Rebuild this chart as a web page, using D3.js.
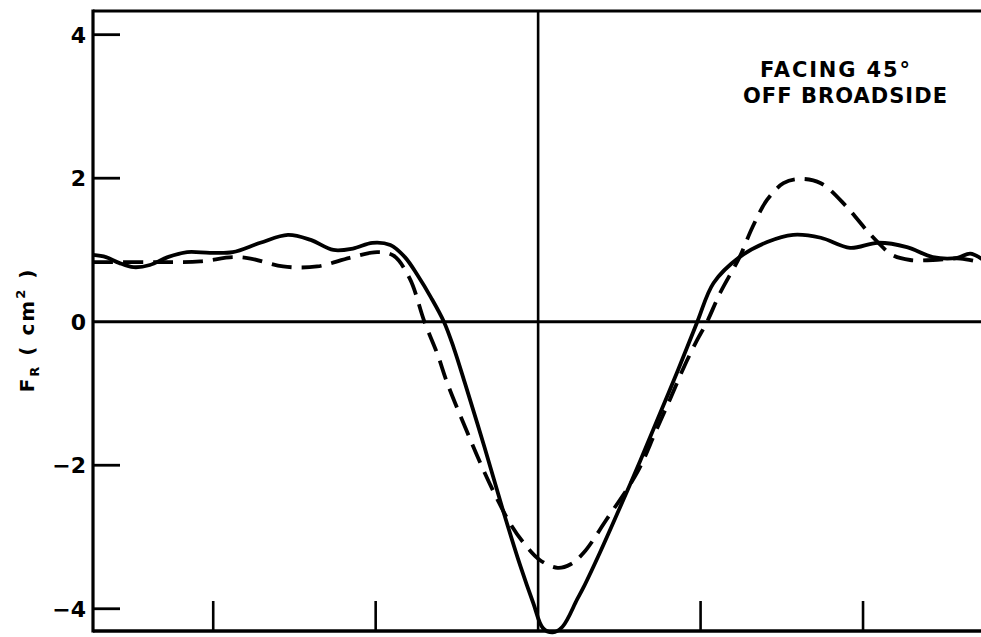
<!DOCTYPE html>
<html>
<head>
<meta charset="utf-8">
<script src="https://cdn.jsdelivr.net/npm/d3@7"></script>
<style>
  html, body { margin: 0; padding: 0; background: #fff; }
  svg { display: block; }
  text { font-family: "DejaVu Sans", "Liberation Sans", sans-serif; font-weight: bold; fill: #000; }
</style>
</head>
<body>
<svg id="chart" width="981" height="637"></svg>
<script>
// Radar cross-section F_R, target facing 45° off broadside
const solidX = [-2.74,-2.66,-2.58,-2.49,-2.39,-2.28,-2.16,-2.02,-1.88,-1.71,-1.54,-1.40,-1.26,-1.14,-1.02,-0.91,-0.82,-0.74,-0.66,-0.58,-0.52,-0.45,-0.33,-0.22,-0.11,-0.03,0.03,0.09,0.15,0.24,0.28,0.38,0.49,0.63,0.75,0.86,0.98,1.08,1.24,1.41,1.57,1.74,1.92,2.09,2.27,2.43,2.58,2.66,2.74];
const solidY = [0.93,0.90,0.82,0.76,0.79,0.90,0.97,0.96,0.97,1.10,1.21,1.14,1.00,1.02,1.10,1.07,0.90,0.64,0.34,0.00,-0.36,-0.86,-1.75,-2.60,-3.40,-3.92,-4.27,-4.33,-4.25,-3.87,-3.70,-3.22,-2.66,-1.93,-1.28,-0.68,0.00,0.54,0.90,1.11,1.21,1.17,1.03,1.10,1.04,0.90,0.89,0.95,0.86];

const dashX = [-2.74,-2.49,-2.28,-2.08,-1.88,-1.77,-1.57,-1.36,-1.16,-0.99,-0.89,-0.79,-0.70,-0.62,-0.56,-0.44,-0.34,-0.25,-0.17,-0.09,0.01,0.12,0.20,0.28,0.42,0.61,0.72,0.81,0.90,0.98,1.04,1.12,1.24,1.32,1.41,1.51,1.61,1.74,1.90,2.02,2.09,2.18,2.29,2.43,2.60,2.74];
const dashY = [0.83,0.83,0.83,0.84,0.90,0.88,0.77,0.77,0.89,0.97,0.92,0.60,0.00,-0.45,-0.85,-1.52,-2.05,-2.48,-2.82,-3.08,-3.32,-3.43,-3.38,-3.22,-2.76,-2.10,-1.55,-1.09,-0.62,-0.25,0.00,0.40,0.90,1.32,1.70,1.93,1.99,1.93,1.60,1.28,1.11,0.93,0.86,0.86,0.88,0.82];

const yTicks = [4, 2, 0, -2, -4];
const yTickLabels = ["4", "2", "0", "\u22122", "\u22124"];
const xTicks = [-2, -1, 1, 2];
const noteLines = ["FACING 45\u00B0", "OFF BROADSIDE"];

const svg = d3.select("#chart");
const plotLeft = 93, plotTop = 11, plotBottom = 631;

const x = d3.scaleLinear().domain([-2.74, 2.74]).range([plotLeft, 538 + 2.74 * 162.5]);
const y = d3.scaleLinear().domain([-4.31, 4.33]).range([plotBottom, plotTop]);

const ink = "#000";

// frame: left axis, top border, bottom axis
svg.append("line").attr("x1", x(-2.74)).attr("x2", x(-2.74)).attr("y1", plotTop - 1.5).attr("y2", plotBottom + 1.5)
  .attr("stroke", ink).attr("stroke-width", 3.2);
svg.append("line").attr("x1", x(-2.74)).attr("x2", 981).attr("y1", plotTop).attr("y2", plotTop)
  .attr("stroke", ink).attr("stroke-width", 3);
svg.append("line").attr("x1", x(-2.74)).attr("x2", 981).attr("y1", plotBottom).attr("y2", plotBottom)
  .attr("stroke", ink).attr("stroke-width", 3.4);

// zero reference lines
svg.append("line").attr("x1", x(-2.74)).attr("x2", 981).attr("y1", y(0)).attr("y2", y(0))
  .attr("stroke", ink).attr("stroke-width", 3);
svg.append("line").attr("x1", x(0)).attr("x2", x(0)).attr("y1", plotTop).attr("y2", plotBottom)
  .attr("stroke", ink).attr("stroke-width", 2.6);

// y ticks and labels
svg.selectAll(".ytick").data(yTicks.filter(d => d !== 0)).enter().append("line")
  .attr("x1", x(-2.74)).attr("x2", x(-2.74) + 27)
  .attr("y1", d => y(d)).attr("y2", d => y(d))
  .attr("stroke", ink).attr("stroke-width", 2.8);
svg.selectAll(".ylab").data(yTicks).enter().append("text")
  .attr("x", 86).attr("y", d => y(d) + 8)
  .attr("text-anchor", "end").attr("font-size", 22)
  .text((d, i) => yTickLabels[i]);

// x ticks along the bottom axis
svg.selectAll(".xtick").data(xTicks).enter().append("line")
  .attr("x1", d => x(d)).attr("x2", d => x(d))
  .attr("y1", plotBottom).attr("y2", plotBottom - 30)
  .attr("stroke", ink).attr("stroke-width", 2.6);

// y-axis title
const title = svg.append("text")
  .attr("transform", "translate(34,330) rotate(-90)")
  .attr("text-anchor", "middle").attr("font-size", 20).attr("letter-spacing", 2);
title.append("tspan").text("F");
title.append("tspan").attr("font-size", 13).attr("dy", 5).text("R");
title.append("tspan").attr("dy", -5).text(" ( cm");
title.append("tspan").attr("font-size", 13).attr("dy", -9).text("2");
title.append("tspan").attr("dy", 9).text(" )");

// curves
const line = d3.line().x(d => x(d[0])).y(d => y(d[1])).curve(d3.curveCatmullRom.alpha(0.5));
svg.append("path").datum(solidX.map((v, i) => [v, solidY[i]]))
  .attr("d", line).attr("fill", "none").attr("stroke", ink)
  .attr("stroke-width", 3.8).attr("stroke-linejoin", "round");
svg.append("path").datum(dashX.map((v, i) => [v, dashY[i]]))
  .attr("d", line).attr("fill", "none").attr("stroke", ink)
  .attr("stroke-width", 3.8).attr("stroke-dasharray", "20,10");

// annotation
svg.append("text").attr("x", 835).attr("y", 77).attr("text-anchor", "middle")
  .attr("font-size", 21).attr("textLength", 150).attr("lengthAdjust", "spacing").text(noteLines[0]);
svg.append("text").attr("x", 845).attr("y", 103).attr("text-anchor", "middle")
  .attr("font-size", 21).attr("textLength", 204).attr("lengthAdjust", "spacing").text(noteLines[1]);
</script>
</body>
</html>
